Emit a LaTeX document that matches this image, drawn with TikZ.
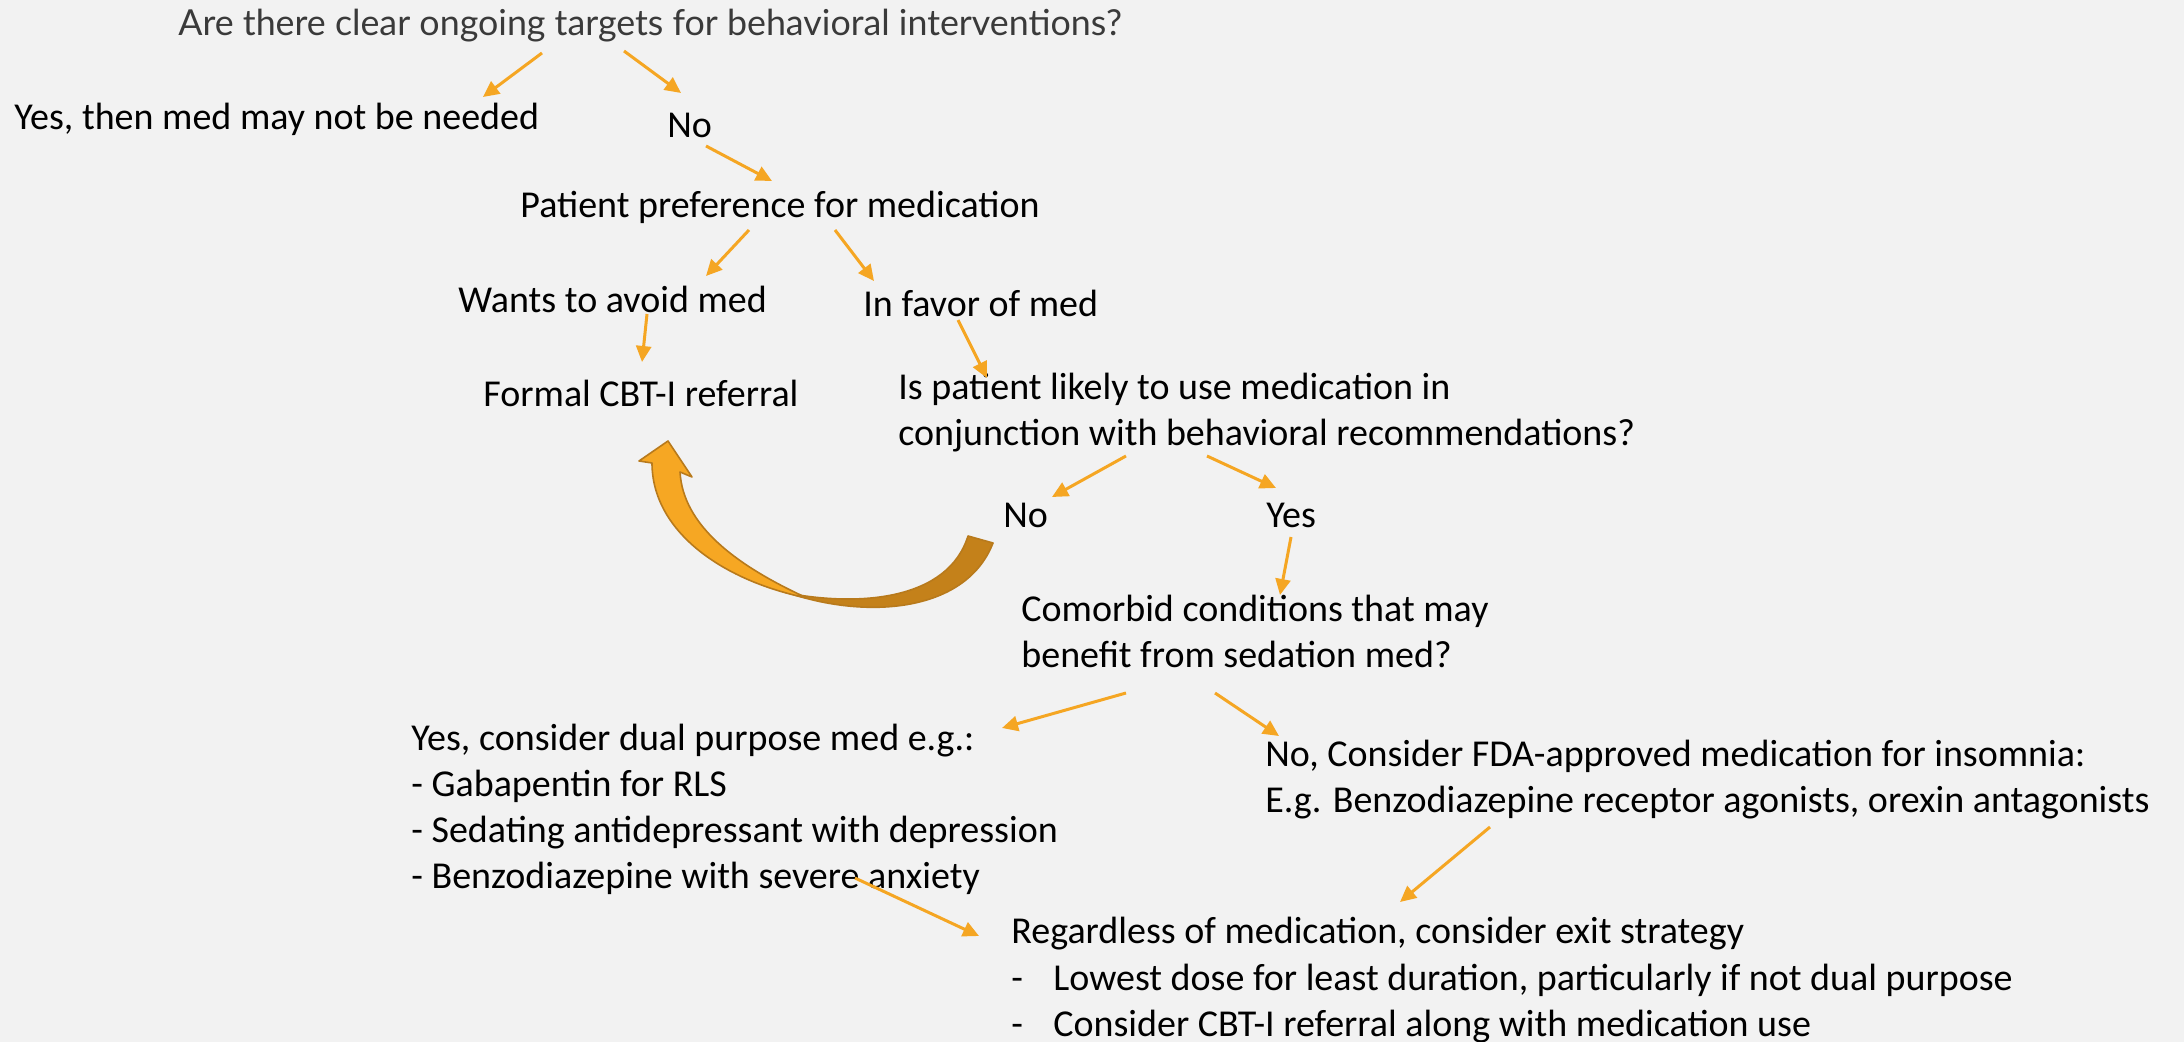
\documentclass[tikz,border=0pt]{standalone}
\usepackage{fontspec}
\setmainfont{Carlito}
\newfontfamily\headfont{Lato}
\usetikzlibrary{arrows.meta}
\definecolor{pagebg}{RGB}{242,242,242}
\definecolor{flow}{RGB}{245,166,35}
\definecolor{bendlight}{RGB}{246,167,35}
\definecolor{benddark}{RGB}{196,129,26}
\definecolor{bendedge}{RGB}{184,122,28}
\definecolor{headgrey}{RGB}{58,58,58}
\begin{document}
\begin{tikzpicture}[x=0.5pt,y=-0.5pt,
  txt/.style={anchor=base west,inner sep=0pt,font=\fontsize{19}{23}\selectfont},
  headtxt/.style={anchor=base west,inner sep=0pt,font=\headfont\fontsize{17.9}{21}\selectfont,text=headgrey},
  flowarrow/.style={draw=flow,line width=1.5pt,-{Triangle[length=8pt,width=7.5pt]}},
  blockarrow/.style={draw=bendedge,line width=0.8pt,line join=round}]

% page
\fill[pagebg] (0,0) rectangle (2184,1042);
\useasboundingbox (0,0) rectangle (2184,1042);

% texts
\node[headtxt] (q1) at (178,36) {Are there clear ongoing targets for behavioral interventions?};
\node[txt] (yes1) at (14,130) {Yes, then med may not be needed};
\node[txt] (no1) at (667,138) {No};
\node[txt] (pref) at (520,218) {Patient preference for medication};
\node[txt] (avoid) at (458,313) {Wants to avoid med};
\node[txt] (favor) at (863,317) {In favor of med};
\node[txt] (cbt) at (483,407) {Formal CBT-I referral};
\node[txt] (likelyA) at (898,400) {Is patient likely to use medication in};
\node[txt] (likelyB) at (898,446) {conjunction with behavioral recommendations?};
\node[txt] (no2) at (1003,528) {No};
\node[txt] (yes2) at (1266,528) {Yes};
\node[txt] (comorA) at (1021,622) {Comorbid conditions that may};
\node[txt] (comorB) at (1021,668) {benefit from sedation med?};
\node[txt] (dualA) at (411,750) {Yes, consider dual purpose med e.g.:};
\node[txt] (dualB) at (411,796) {- Gabapentin for RLS};
\node[txt] (dualC) at (411,842) {- Sedating antidepressant with depression};
\node[txt] (dualD) at (411,888) {- Benzodiazepine with severe anxiety};
\node[txt] (fdaA) at (1265,766) {No, Consider FDA-approved medication for insomnia:};
\node[txt] (fdaB) at (1265,812) {E.g. Benzodiazepine receptor agonists, orexin antagonists};
\node[txt] (exitA) at (1011,943) {Regardless of medication, consider exit strategy};
\node[txt] (exitB) at (1011,990) {\makebox[21pt][l]{-}Lowest dose for least duration, particularly if not dual purpose};
\node[txt] (exitC) at (1011,1036) {\makebox[21pt][l]{-}Consider CBT-I referral along with medication use};

% connector ends
\coordinate (q1L) at (542,53);   \coordinate (yes1T) at (483,97);
\coordinate (q1R) at (624,51);   \coordinate (no1T) at (681,93);
\coordinate (no1B) at (706,146); \coordinate (prefT) at (772,181);
\coordinate (prefL) at (749,230); \coordinate (avoidT) at (706,276);
\coordinate (prefR) at (835,230); \coordinate (favorT) at (874,281);
\coordinate (avoidBot) at (647,314); \coordinate (cbtT) at (642,362);
\coordinate (favorBot) at (958,320); \coordinate (likelyT) at (987,378);
\coordinate (likelyL) at (1126,456); \coordinate (no2T) at (1052,497);
\coordinate (likelyR) at (1207,456); \coordinate (yes2T) at (1276,488);
\coordinate (yes2Bot) at (1291,537); \coordinate (comorT) at (1280,595);
\coordinate (comorL) at (1126,693); \coordinate (dualT) at (1002,728);
\coordinate (comorR) at (1215,693); \coordinate (fdaT) at (1279,736);
\coordinate (fdaBot) at (1490,827); \coordinate (exitTR) at (1400,902);
\coordinate (dualBot) at (855,878); \coordinate (exitTL) at (979,936);

% connectors
\draw[flowarrow] (q1L) -- (yes1T);
\draw[flowarrow] (q1R) -- (no1T);
\draw[flowarrow] (no1B) -- (prefT);
\draw[flowarrow] (prefL) -- (avoidT);
\draw[flowarrow] (prefR) -- (favorT);
\draw[flowarrow] (avoidBot) -- (cbtT);
\draw[flowarrow] (favorBot) -- (likelyT);
\draw[flowarrow] (likelyL) -- (no2T);
\draw[flowarrow] (likelyR) -- (yes2T);
\draw[flowarrow] (yes2Bot) -- (comorT);
\draw[flowarrow] (comorL) -- (dualT);
\draw[flowarrow] (comorR) -- (fdaT);
\draw[flowarrow] (fdaBot) -- (exitTR);
\draw[flowarrow] (dualBot) -- (exitTL);

% curved block arrow back to the referral
\filldraw[blockarrow,fill=benddark]
  (780,590) .. controls (860,620) and (965,615) .. (993,543)
  -- (968,536) .. controls (948,600) and (860,607) .. (787,593) -- cycle;
\filldraw[blockarrow,fill=bendlight]
  (668,441) -- (692,477) -- (680,472)
  .. controls (683,525) and (735,565) .. (807,598)
  .. controls (720,580) and (652,530) .. (652,463)
  -- (639,461) -- cycle;
\end{tikzpicture}
\end{document}
